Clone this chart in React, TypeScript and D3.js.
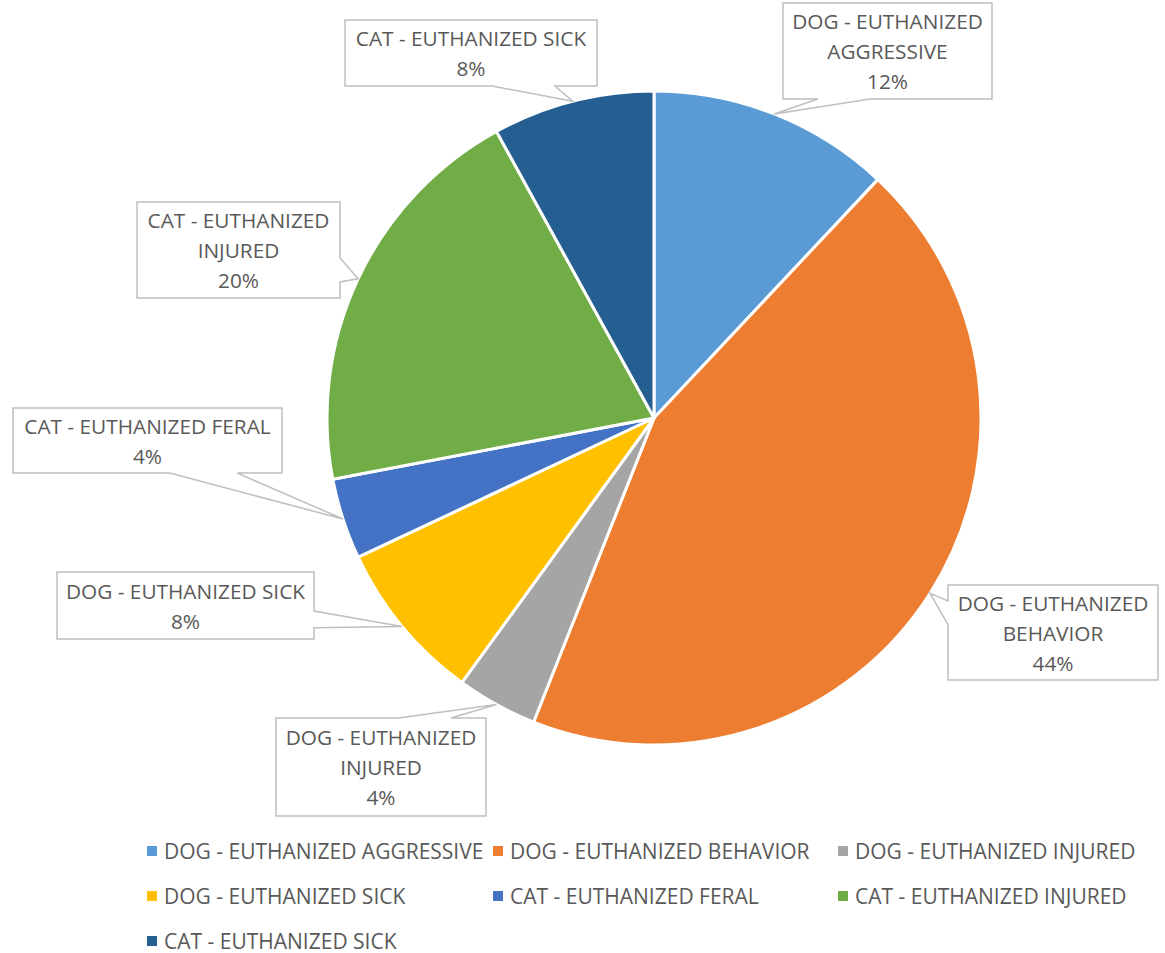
import React, { useEffect } from 'react';
import * as d3 from 'd3';

const categories = [
  'DOG - EUTHANIZED AGGRESSIVE',
  'DOG - EUTHANIZED BEHAVIOR',
  'DOG - EUTHANIZED INJURED',
  'DOG - EUTHANIZED SICK',
  'CAT - EUTHANIZED FERAL',
  'CAT - EUTHANIZED INJURED',
  'CAT - EUTHANIZED SICK',
];
const values = [12, 44, 4, 8, 4, 20, 8];
const colors = ['#5B9BD5', '#ED7D31', '#A5A5A5', '#FFC000', '#4472C4', '#70AD47', '#255E91'];

// label text lines as shown in callouts
const labelLines = [
  ['DOG - EUTHANIZED', 'AGGRESSIVE'],
  ['DOG - EUTHANIZED', 'BEHAVIOR'],
  ['DOG - EUTHANIZED', 'INJURED'],
  ['DOG - EUTHANIZED SICK'],
  ['CAT - EUTHANIZED FERAL'],
  ['CAT - EUTHANIZED', 'INJURED'],
  ['CAT - EUTHANIZED SICK'],
];

// callout box layout [x0, y0, x1, y1]
const boxes = [
  [783, 3, 992, 99],
  [948, 585, 1158, 680],
  [276, 718, 486, 816],
  [57, 572, 314, 639],
  [13, 408, 282, 473],
  [137, 202, 340, 298],
  [345, 20, 597, 86],
];

const W = 1165;
const H = 953;
const CX = 654;
const CY = 418;
const R = 327;
const FONT = '"Open Sans", "Noto Sans", sans-serif';
const TEXT = '#595959';

const calloutPath = (b: number[], tip: [number, number]) => {
  const [x0, y0, x1, y1] = b;
  const w = x1 - x0;
  const h = y1 - y0;
  const [tx, ty] = tip;
  if (ty >= y0 && ty <= y1) {
    const zone = ty > (y0 + y1) / 2 ? [7 / 12, 10 / 12] : [2 / 12, 5 / 12];
    const b1 = y0 + h * zone[0];
    const b2 = y0 + h * zone[1];
    if (tx > x1) {
      return `M${x0},${y0}H${x1}V${b1}L${tx},${ty}L${x1},${b2}V${y1}H${x0}Z`;
    }
    return `M${x0},${y0}H${x1}V${y1}H${x0}V${b2}L${tx},${ty}L${x0},${b1}Z`;
  }
  const zone = tx > (x0 + x1) / 2 ? [7 / 12, 10 / 12] : [2 / 12, 5 / 12];
  const b1 = x0 + w * zone[0];
  const b2 = x0 + w * zone[1];
  if (ty > y1) {
    return `M${x0},${y0}H${x1}V${y1}H${b2}L${tx},${ty}L${b1},${y1}H${x0}Z`;
  }
  return `M${x0},${y0}H${b1}L${tx},${ty}L${b2},${y0}H${x1}V${y1}H${x0}Z`;
};

const legendCols = [147, 493, 838];
const legendRows = [851, 896, 941];

export default function App() {
  useEffect(() => {
    document.body.style.margin = '0';
  }, []);

  const pie = d3.pie<number>().value((d) => d).sort(null);
  const arcs = pie(values);
  const arc = d3.arc<d3.PieArcDatum<number>>().innerRadius(0).outerRadius(R);
  const total = d3.sum(values);

  return (
    <svg width={W} height={H} style={{ display: 'block', background: '#fff' }}>
      <g transform={`translate(${CX},${CY})`}>
        {arcs.map((a, i) => (
          <path key={i} d={arc(a)!} fill={colors[i]} stroke="#fff" strokeWidth={3} strokeLinejoin="round" />
        ))}
      </g>
      {arcs.map((a, i) => {
        const mid = (a.startAngle + a.endAngle) / 2;
        const tip: [number, number] = [CX + R * Math.sin(mid), CY - R * Math.cos(mid)];
        const b = boxes[i];
        const lines = [...labelLines[i], `${Math.round((values[i] / total) * 100)}%`];
        const bcx = (b[0] + b[2]) / 2;
        const bcy = (b[1] + b[3]) / 2;
        return (
          <g key={i}>
            <path d={calloutPath(b, tip)} fill="#fff" stroke="#BFBFBF" strokeWidth={1.5} />
            {lines.map((t, j) => (
              <text
                key={j}
                x={bcx}
                y={bcy + (j - (lines.length - 1) / 2) * 30 + 8}
                textAnchor="middle"
                fontFamily={FONT}
                fontSize={20.8}
                fill={TEXT}
              >
                {t}
              </text>
            ))}
          </g>
        );
      })}
      {categories.map((c, i) => {
        const x = legendCols[i % 3];
        const y = legendRows[Math.floor(i / 3)];
        return (
          <g key={c}>
            <rect x={x} y={y - 5} width={10} height={10} fill={colors[i]} />
            <text x={x + 17} y={y + 7.5} fontFamily={FONT} fontSize={21} fill={TEXT}>
              {c}
            </text>
          </g>
        );
      })}
    </svg>
  );
}
